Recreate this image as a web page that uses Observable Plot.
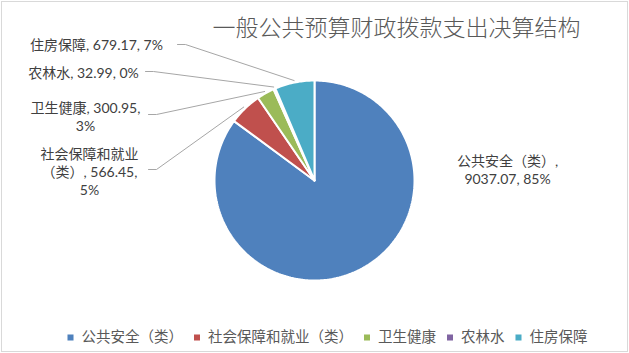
<!DOCTYPE html>
<html><head><meta charset="utf-8">
<script src="https://cdn.jsdelivr.net/npm/d3@7"></script>
<script src="https://cdn.jsdelivr.net/npm/@observablehq/plot@0.6"></script>
<style>body{margin:0;background:#fff}</style>
</head><body><div id="chart"></div>
<script>
// ---- data ----
const title = "一般公共预算财政拨款支出决算结构";
const categories = ["公共安全（类）", "社会保障和就业（类）", "卫生健康", "农林水", "住房保障"];
const values = [9037.07, 566.45, 300.95, 32.99, 679.17];
const percents = ["85%", "5%", "3%", "0%", "7%"];
const colors = ["#4F81BD", "#C0504D", "#9BBB59", "#8064A2", "#4BACC6"];

// ---- layout ----
const W = 629, H = 353;
const cx = 314, cy = 180, R = 100;
const FONT = "Lato, 'Noto Sans CJK SC', sans-serif";
const TEXT = "#404040";

const labelLayout = [
  {x: 507, y: 168.5, lines: (c, v, p) => [c + ",", v + ", " + p], leader: null},
  {x: 89, y: 170.5, lines: (c, v, p) => [c.slice(0, 7), c.slice(7) + ", " + v + ",", p], leader: [148, 169]},
  {x: 85, y: 115.5, lines: (c, v, p) => [c + ", " + v + ",", p], leader: [148, 114]},
  {x: 83, y: 72, lines: (c, v, p) => [c + ", " + v + ", " + p], leader: [145, 71]},
  {x: 96, y: 44, lines: (c, v, p) => [c + ", " + v + ", " + p], leader: [177, 44]}
];

const arcs = d3.pie().sort(null).value(d => d)(values);
const polar = (a, r) => ({x: cx + r * Math.sin(a), y: cy - r * Math.cos(a)});

// slice outlines
const slicePts = [];
arcs.forEach((p, i) => {
  const name = categories[i];
  slicePts.push({name, x: cx, y: cy});
  const n = Math.max(2, Math.ceil((p.endAngle - p.startAngle) / (Math.PI / 180)));
  for (let k = 0; k <= n; k++) {
    const a = p.startAngle + (p.endAngle - p.startAngle) * k / n;
    slicePts.push({name, ...polar(a, R)});
  }
  slicePts.push({name, x: cx, y: cy});
});

// labels and leaders
const labels = [];
const leaderPts = [];
arcs.forEach((p, i) => {
  const L = labelLayout[i];
  const text = L.lines(categories[i], values[i].toFixed(2), percents[i]).join("\n");
  labels.push({x: L.x, y: L.y, text});
  if (L.leader) {
    const mid = (p.startAngle + p.endAngle) / 2;
    const e = polar(mid, R + 2);
    const [lx, ly] = L.leader;
    leaderPts.push({name: categories[i], x: lx, y: ly});
    leaderPts.push({name: categories[i], x: lx + 8, y: ly});
    leaderPts.push({name: categories[i], x: e.x, y: e.y});
  }
});

// legend
const LFS = 14.5;
const ctx = document.createElement("canvas").getContext("2d");
ctx.font = `${LFS}px ${FONT}`;
const sq = 6, gap1 = 8, gap2 = 11;
const widths = categories.map(c => ctx.measureText(c).width);
const total = d3.sum(widths) + categories.length * (sq + gap1) + gap2 * (categories.length - 1);
let x0 = 327 - total / 2;
const legendItems = categories.map((c, i) => {
  const it = {name: c, sx: x0 + sq / 2, tx: x0 + sq + gap1, y: 337};
  x0 += sq + gap1 + widths[i] + gap2;
  return it;
});

const chart = Plot.plot({
  width: W, height: H, margin: 0,
  x: {domain: [0, W], range: [0, W], axis: null},
  y: {domain: [0, H], range: [0, H], axis: null},
  color: {domain: categories, range: colors},
  style: {fontFamily: FONT, background: "#fff"},
  marks: [
    Plot.frame({stroke: "#d9d9d9", insetLeft: 1, insetTop: 1, insetRight: 2, insetBottom: 2}),
    Plot.line(slicePts, {x: "x", y: "y", z: "name", fill: "name", stroke: "white", strokeWidth: 2, curve: "linear", strokeLinejoin: "miter"}),
    Plot.line(leaderPts, {x: "x", y: "y", z: "name", stroke: "#a6a6a6", strokeWidth: 1, curve: "linear"}),
    Plot.text(labels, {x: "x", y: "y", text: "text", fontSize: 14, lineHeight: 1.28, textAnchor: "middle", lineAnchor: "middle", fill: TEXT}),
    Plot.text([title], {x: () => 396, y: () => 28, text: d => d, fontSize: 23, fontWeight: 300, fill: "#595959", fontFamily: "'Noto Sans CJK SC', sans-serif"}),
    Plot.dot(legendItems, {x: "sx", y: "y", symbol: "square", r: 3.4, fill: "name", stroke: null}),
    Plot.text(legendItems, {x: "tx", y: "y", text: "name", textAnchor: "start", fontSize: LFS, fill: "#595959"})
  ]
});
document.getElementById("chart").append(chart);
</script>
</body></html>
